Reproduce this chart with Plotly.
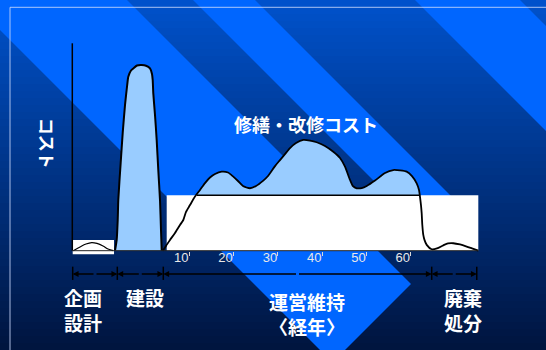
import plotly.graph_objects as go

W, H = 546, 350

# ---------------- data (x: years of operation, y: relative cost) ----------------
plan_years = [-16.19, -14.67, -13.32, -12.03, -10.84, -9.48, -8.35, -7.16]
plan_cost = [0, 1.8, 3.2, 3.9, 3.5, 2.3, 0.8, 0]

build_years = [-6.77, -6.39, -6.16, -6.03, -5.49, -5.03, -4.51, -4.02, -3.77, -3.16, -2.64,
               -1.81, -0.74, 0.23, 1.13, 1.58, 1.74, 1.87, 2.26, 2.64, 3.00, 3.39, 3.61, 3.77]
build_cost = [0, 5.2, 14.8, 24.4, 42.3, 56.8, 70.3, 79.9, 83.9, 86.9, 87.9,
              89.3, 89.5, 89.2, 87.9, 85.2, 82.3, 76.0, 65.4, 53.3, 38.9, 24.4, 10.0, 0]

ops_years = [4.0, 4.74, 5.64, 6.77, 7.9, 8.65, 9.26, 10.16, 11.29, 12.42, 13.54, 14.67, 15.8,
             17.31, 18.74, 19.93, 20.99, 22.12, 23.7, 25.06, 26.7, 27.77, 29.35, 30.47, 31.6,
             32.73, 34.09, 35.73, 37.25, 38.76, 40.63, 42.51, 44.02, 45.15, 46.28, 46.95, 47.79,
             48.92, 50.05, 51.92, 54.18, 56.05, 57.56, 59.07, 60.27, 61.33, 61.85, 62.08, 62.3,
             62.46, 62.6, 62.82, 63.09, 63.59, 64.72, 65.91, 67.34, 68.4, 69.59, 71.11, 72.62,
             73.81, 75.24]
ops_cost = [0, 2.3, 5.2, 8.5, 12.4, 14.8, 18.7, 22.0, 26.1, 29.3, 32.6, 35.3, 37.0,
            38.1, 37.7, 35.7, 33.6, 31.2, 30.1, 31.2, 33.8, 36.0, 40.8, 43.7, 46.6,
            49.5, 51.9, 53.4, 53.1, 52.3, 50.5, 47.7, 44.7, 40.5, 34.1, 31.1, 30.1,
            30.2, 31.2, 33.8, 37.5, 38.9, 38.7, 38.1, 36.0, 32.5, 29.3, 25.9, 22.0,
            18.0, 12.4, 7.6, 5.2, 2.8, 0.7, 1.1, 2.6, 3.5, 3.6, 3.0, 2.0,
            1.1, 0]

plan_box = [-16.32, -6.99, -1.7, 5.2]          # x0, x1, y0, y1 (planning white box)
base_box = [4.9, 75.24, 0, 26.7]               # operating base-cost white box
repair_level = 26.7
repair_span = [11.7, 62.1]

tick_years = [10, 20, 30, 40, 50, 60]
tick_text = ["10", "20", "30", "40", "50", "60"]

phase_bounds = [-16.32, -6.25, 4.13, 64.72, 74.89]
axis_x = -16.41
axis_top = 100

X_RANGE = [-32.73, 90.52]
Y_RANGE = [-47.88, 120.88]
DIM_Y = -11.23
SEP_Y = [-7.7, -14.1]

BLUE = "#99ccff"

fig = go.Figure()

def rect_xy(b):
    x0, x1, y0, y1 = b
    return [x0, x1, x1, x0, x0], [y0, y0, y1, y1, y0]

# planning box + hump
rx, ry = rect_xy(plan_box)
fig.add_trace(go.Scatter(x=rx, y=ry, fill="toself", fillcolor="white", mode="none", hoverinfo="skip"))
fig.add_trace(go.Scatter(x=plan_years, y=plan_cost, mode="lines", line=dict(color="black", width=1.2, shape="spline"), hoverinfo="skip"))

# construction peak
fig.add_trace(go.Scatter(x=build_years, y=build_cost, fill="toself", fillcolor=BLUE, mode="lines",
                         line=dict(color="black", width=2, shape="spline", smoothing=0.6), hoverinfo="skip"))

# repair / renovation area
fig.add_trace(go.Scatter(x=ops_years[2:], y=ops_cost[2:], fill="tozeroy", fillcolor=BLUE, mode="none",
                         line=dict(shape="spline", smoothing=0.6), hoverinfo="skip"))
rx, ry = rect_xy(base_box)
fig.add_trace(go.Scatter(x=rx, y=ry, fill="toself", fillcolor="white", mode="none", hoverinfo="skip"))
fig.add_trace(go.Scatter(x=repair_span, y=[repair_level, repair_level], mode="lines",
                         line=dict(color="black", width=1.5), hoverinfo="skip"))
fig.add_trace(go.Scatter(x=ops_years, y=ops_cost, mode="lines",
                         line=dict(color="black", width=1.8, shape="spline", smoothing=0.6), hoverinfo="skip"))

# y axis line and baseline
fig.add_trace(go.Scatter(x=[axis_x, axis_x], y=[0, axis_top], mode="lines", line=dict(color="black", width=1.5), hoverinfo="skip"))
fig.add_trace(go.Scatter(x=[axis_x, base_box[1]], y=[0, 0], mode="lines", line=dict(color="#222222", width=1), hoverinfo="skip"))

# phase separators
sx, sy = [], []
for b in phase_bounds:
    sx += [b, b, None]
    sy += [SEP_Y[0], SEP_Y[1], None]
fig.add_trace(go.Scatter(x=sx, y=sy, mode="lines", line=dict(color="black", width=1.5), hoverinfo="skip"))

annotations = []
for a, b in zip(phase_bounds[:-1], phase_bounds[1:]):
    m = (a + b) / 2
    for end in (a, b):
        annotations.append(dict(x=end, y=DIM_Y, ax=m, ay=DIM_Y, axref="x", ayref="y", xref="x", yref="y",
                                showarrow=True, arrowhead=2, arrowsize=0.9, arrowwidth=1.3,
                                arrowcolor="black", text="", standoff=0, startstandoff=0))

def P(px, py):
    return px / W, 1 - py / H

CJK = "Noto Sans CJK JP"
def label(text, px, py, size=19, angle=0):
    x, y = P(px, py)
    annotations.append(dict(x=x, y=y, xref="paper", yref="paper", text=text, showarrow=False,
                            xanchor="center", yanchor="middle", textangle=angle,
                            font=dict(family=CJK, size=size, color="white", weight="bold")))

label("企画<br>設計", 83.3, 309.5)
label("建設", 145, 297.3)
label("運営維持<br>〈経年〉", 307, 314)
label("廃棄<br>処分", 462.7, 309.5)
label("コスト", 48.3, 143, size=17, angle=90)
label("修繕・改修コスト", 305.8, 124, size=18)

# ---------------- background ----------------
shapes = []
N = 50
for i in range(N):
    t = (i + 0.5) / N
    g = int(round(82 - 62 * t))
    bl = int(round(204 - 142 * t))
    shapes.append(dict(type="rect", xref="paper", yref="paper", x0=0, x1=1,
                       y0=1 - (i + 1) / N - 0.001, y1=1 - i / N,
                       fillcolor="rgb(0,%d,%d)" % (g, bl), line=dict(width=0), layer="below"))

stripes = [
    [(0, 0), (127, 0), (411, 284), (345, 350), (320, 350), (0, 30)],
    [(193, 0), (255, 0), (475, 220), (444, 251)],
    [(415, 0), (520, 0), (546, 26), (546, 131)],
]
for poly in stripes:
    path = "M " + " L ".join("%.5f,%.5f" % P(px, py) for px, py in poly) + " Z"
    shapes.append(dict(type="path", xref="paper", yref="paper", path=path,
                       fillcolor="#0066ff", line=dict(width=0), layer="below"))

# frame
fx0, fy0 = P(10, 7.3)
shapes.append(dict(type="line", xref="paper", yref="paper", x0=fx0, y0=fy0, x1=1, y1=fy0,
                   line=dict(color="rgba(200,215,250,0.85)", width=1), layer="below"))
shapes.append(dict(type="line", xref="paper", yref="paper", x0=fx0, y0=fy0, x1=fx0, y1=0,
                   line=dict(color="rgba(200,215,250,0.85)", width=1), layer="below"))

fig.update_layout(
    width=W, height=H, margin=dict(l=0, r=0, t=0, b=0), autosize=False,
    paper_bgcolor="#003080", plot_bgcolor="rgba(0,0,0,0)",
    showlegend=False, shapes=shapes, annotations=annotations,
    xaxis=dict(range=X_RANGE, domain=[0, 1], anchor="free", position=1 - 250.7 / H,
               showgrid=False, zeroline=False, showline=False,
               tickvals=tick_years, ticktext=tick_text, ticks="outside", ticklen=4,
               tickcolor="#d8d8d8", tickwidth=1, ticklabelshift=-8, ticklabelstandoff=-9,
               tickfont=dict(family="Liberation Sans", size=13, color="#e8e8e8"), fixedrange=True),
    yaxis=dict(range=Y_RANGE, domain=[0, 1], visible=False, fixedrange=True),
)

fig.write_html("out.html")
